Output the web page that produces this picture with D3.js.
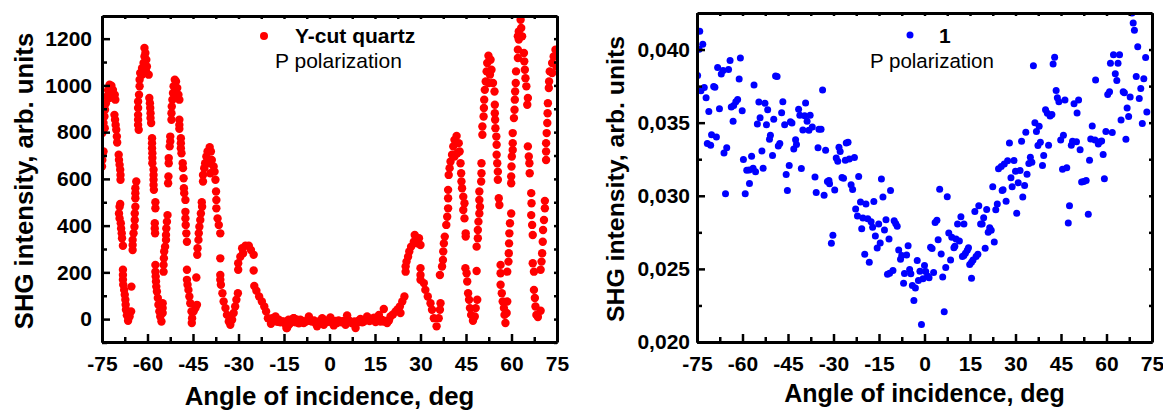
<!DOCTYPE html>
<html lang="en">
<head>
<meta charset="utf-8">
<title>SHG intensity vs angle of incidence</title>
<script src="https://d3js.org/d3.v7.min.js"></script>
<style>
    html, body { margin: 0; padding: 0; background: #fff; }
    svg { display: block; font-family: "Liberation Sans", Arial, sans-serif; }
</style>
</head>
<body>
<div id="chart"></div>
<script>
    ////////////////////////////////////////////////// DATA
    // [angle in deg, intensity]
    var quartzLeft = [
        [-75,653],[-74.9,681],[-74.8,710],[-74.5,717],[-74.9,796],[-74.7,817],[-74.5,839],[-74.9,867],[-74.2,867],[-74,896],
        [-74.1,817],[-73.7,924],[-73.4,953],[-73,979],[-72.5,1003],[-71.9,999],[-71.4,981],[-70.8,960],[-70.6,939],[-71.7,960],[-72.5,946],
        [-70.9,874],[-70.7,853],[-70.5,831],[-70.3,810],[-70.1,781],[-70,756],[-69.5,703],[-69.4,681],[-69.2,660],[-69,639],[-68.9,617],[-68.9,596],
        [-69,493],[-69.2,481],[-69.4,452],[-69.2,431],[-68.8,410],[-68.7,388],[-68.5,367],[-68.4,346],[-68.1,314],
        [-68.1,211],[-68.1,189],[-68.1,168],[-68,147],[-67.7,125],[-67.5,104],[-67.3,83],[-67.2,61],[-67.1,40],[-66.8,16],[-66.4,-7],
        [-65.9,11],[-65.4,33],[-65.3,139],[-64.9,296],[-64.9,317],[-64.9,339],[-64.6,367],[-64.3,395],[-64.2,424],[-64.2,452],[-64,481],[-64,517],[-64,539],[-64,560],[-63.7,589],
        [-62.9,810],[-63.1,831],[-63.1,853],[-63.1,874],[-63.1,903],[-63.1,931],[-62.8,960],[-62.6,996],[-62.6,1024],[-62.4,1053],[-61.8,1074],[-61.3,1096],[-61,1124],[-61,1160],
        [-60.7,1139],[-60.4,1110],[-60.2,1081],[-59.6,1046],[-61,1067],[-61.8,1046],[-60.5,1060],
        [-59.4,946],[-59.2,924],[-59.1,903],[-59,881],[-59,860],[-58.8,839],[-58.5,774],[-58.5,753],[-58.5,731],[-58.4,710],[-58.4,689],[-58.4,667],
        [-58,639],[-58,617],[-58,596],[-58,574],[-57.9,553],[-57.4,500],[-57.4,474],[-57.6,410],[-57.6,388],[-57.5,367],
        [-57.4,232],[-57.4,203],[-57.3,182],[-57.2,161],[-57.1,139],[-56.9,118],[-56.6,90],[-56.4,61],[-56.1,33],[-55.8,11],[-55.4,-10],
        [-55,68],[-55,47],[-55,26],[-54.7,203],[-54.7,232],[-54.6,260],[-54.5,289],[-54.2,310],[-53.9,339],[-53.9,360],[-53.8,388],[-53.6,417],[-53.4,445],
        [-53.2,581],[-53.1,610],[-53,667],[-53,689],[-52.7,739],[-52.5,760],[-52.5,781],[-52.1,853],[-52.1,881],[-52,910],[-51.8,939],[-51.6,967],[-51.4,996],[-51,1024],
        [-50.6,1017],[-50.2,989],[-49.8,960],[-49.5,939],[-50.8,953],
        [-49.5,853],[-49.5,831],[-49.5,814],[-49,774],[-49,753],[-49,731],[-48.8,710],[-48.4,667],[-48.3,646],[-48.1,603],[-48,560],[-47.9,539],[-47.5,510],
        [-47.5,459],[-47.5,431],[-47.4,403],[-47.2,367],[-47,331],[-47,211],[-47,168],[-46.8,147],[-46.5,125],[-46.2,97],[-45.9,68],[-45.5,33],[-45.3,4],[-45.4,-17],
        [-43.9,178],[-43.7,61],[-44.8,33],[-44.2,47],[-43.6,275],[-43.5,303],[-43.2,339],[-43.1,367],[-42.9,395],[-42.6,424],[-42.4,452],[-42,481],[-42.1,500],
        [-41.7,589],[-41.7,617],[-41.3,646],[-41,667],[-40.6,696],[-40.2,717],[-39.5,736],[-39.1,717],[-38.8,681],[-38.2,653],[-37.9,631],[-39.8,667],[-39.3,624],[-37.6,596],[-37.4,546],[-37.3,510],
        [-37.3,474],[-36.9,431],[-36.5,403],[-36,367],[-36,260],[-36,189],[-36,168],[-35.8,147],[-35.3,111],[-34.9,75],[-34.3,47],[-33.8,18],[-33.2,-10],[-32.7,-24],
        [-32.1,-3],[-31.6,26],[-31.1,54],[-30.7,83],[-30.2,111],
        [-30.1,211],[-30.1,239],[-29.4,267],[-28.8,303],[-28.5,282],[-27.7,314],[-26.6,314],[-25.9,296],[-25,275],[-25,208],
        [-24.8,142],[-24.1,121],[-23.2,97],[-22.3,75],[-21.5,54],[-20.9,33],[-20.3,4],[-19.3,-20],[-18.9,4],[-17.8,11],[-16.7,-3],[-15.7,-10],[-14.2,-38],[-13.5,-3],[-11.8,4],[-10.7,-10],[-9.6,-3]
    ];
    var quartzFlat = [
        [-18.4,-8],[-17.2,-12],[-16.2,-14],[-15.1,-10],[-14.6,-20],[-14,-10],[-14,-38],[-13.4,-24],[-12.9,-17],[-12.3,-8],[-11.8,4],[-11.2,-14],[-10.7,-3],[-10.1,-18],[-9.6,-10],[-9,-8],[-8.5,-17],[-7.9,-12],[-7.4,-6],[-6.8,11],[-6.3,-8],[-5.7,-10],[-5.1,-6],[-4.6,-17],[-4.1,-31],[-3.5,-12],[-3,-6],[-2.4,4],[-1.9,-24],[-1.3,-8],[-0.8,-13],[-0.3,-4],[0.3,7],
        [0.8,-14],[1.4,-27],[2,-8],[2.5,-17],[3,-6],[3.4,-10],[4,-14],[4.6,-8],[5.3,-24],[5.8,16],[6.3,-4],[6.9,-13],[7.5,-18],[8.2,-10],[8.6,-38],[9.2,-14],[9.7,-6],[10.2,1],[10.8,-14],[11.3,-10],[11.9,-4],[12.4,11],[13.2,-8],[13.7,2],[14.1,-3],[14.7,6],[15.2,-13],[15.8,2],[16.3,18],[16.8,-10],[17.4,-4],[17.9,43],[17.9,-10],
        [18.5,-8],[19,-17],[19.6,-6],[20.1,11],[20.9,20],[21.8,33],[22.5,42],[23.2,54],[23.4,26],[24,75],[24.7,97]
    ];
    var quartzRight = [
        [25.1,203],[25.1,225],[25.4,246],[25.9,267],[26.3,289],[26.9,310],[27.8,331],[28.1,360],[29.5,346],[30,317],[28.9,324],
        [30,218],[30,189],[30,168],[31.1,154],[31.6,125],[32.4,97],[33.3,68],[33.8,40],[34.4,4],[35.3,-31],[36,4],[36.6,68],[36.4,40],
        [36.4,189],[37.1,225],[37.4,253],[37.5,289],[37.7,324],[38,353],[38.5,403],[38.8,438],[39.1,474],[39.1,517],[39.1,553],[39.3,617],[39.6,646],[39.9,674],
        [40.4,703],[40.8,739],[41.2,767],[41.9,784],[42.6,753],[42.9,717],[42.1,710],[41.2,696],[43.2,667],[43.4,624],[43.5,589],[43.7,560],[44.1,524],[44.5,496],
        [44.1,467],[44.5,431],[44.9,367],[44.9,353],[44.8,218],[45.2,196],[45.4,161],[45.7,111],[46,83],[46.3,47],[46.7,18],[47.3,-7],[47.9,11],[48.7,83],[48.2,47],[48.5,206],
        [48.5,310],[48.9,346],[48.9,381],[49.1,417],[49.4,452],[49.6,481],[49.4,510],[49.4,546],[50,589],[50.1,624],[50.1,667],[50.4,789],[50.4,824],[50.8,867],[50.9,903],[51,939],
        [51.2,981],[51.5,1017],[51.8,1060],[52,1096],[52.4,1127],[53.1,1110],[53.4,1067],[53.9,1010],[54.4,974],[52.5,1010],[52.9,1046],
        [54.5,917],[54.5,881],[54.6,853],[54.7,817],[55,781],[55.1,746],[55.1,703],[55.3,667],[55.5,631],[55.5,596],[55.8,517],[56,488],
        [56.4,232],[56.4,196],[56.4,147],[56.8,111],[57.1,75],[57.5,47],[57.7,18],[58,-17],[58.6,75],[58.4,26],
        [58.6,203],[59,246],[59.1,282],[59.2,324],[59.3,367],[59.5,410],[59.9,452],[59.9,581],[59.9,610],[60,653],[60.1,696],[60.4,724],[60.4,753],[60.4,796],
        [60.8,860],[61,896],[61.1,939],[61.2,974],[61.4,1010],[61.5,1060],[62.1,1117],[62.1,1153],[62.4,1196],[62.4,1231],[63,1281],[63.2,1246],[63.5,1210],[62.1,1210],
        [64.1,1139],[64.2,1103],[64.4,1067],[64.6,1031],[64.9,996],[65.4,946],[65.2,917],
        [65.4,739],[65.7,696],[65.9,667],[66,624],[66.5,539],[66.6,496],[66.5,445],[66.8,403],[67,360],[67,239],[67.4,203],[67.4,125],[67.7,90],[67.9,54],[68.2,18],[68.7,9],[69.6,36],
        [69.6,211],[69.9,246],[70.1,282],[70.3,331],[70.4,381],[70.7,424],[71,474],[71,506],[71.4,681],[71.4,717],[71.4,753],[71.6,796],[71.8,839],[71.9,881],[72,924],
        [72.3,989],[72.4,1017],[72.6,1060],[73.4,1096],[73.9,1124],[74.5,1153],[73.4,1053],[74.8,1081]
    ];

    var sampleLeft = [
        [-74.1,.04125],[-73.1,.04036],[-74.3,.04002],[-74.8,.03822],[-72.6,.03741],[-73.7,.03718],[-72,.0367],[-71.1,.03577],[-69.5,.03748],[-69.1,.03743],[-68.2,.03877],[-67,.03832],[-66.4,.03857],[-64.6,.03864],[-64.1,.03925],
        [-60.7,.03943],[-61.1,.03798],[-56.2,.03757],[-67.6,.03595],[-63.7,.03607],[-62.9,.03618],[-62.2,.03643],[-61.6,.03659],[-60.1,.03582],[-63.1,.03509],[-54.6,.03641],[-52.6,.03632],[-51.7,.03589],[-54.2,.03534],[-55.1,.03491],
        [-52.1,.03486],[-49.7,.03523],[-49.1,.0382],[-48.6,.03816],[-46.7,.03643],[-47.1,.03568],[-46.1,.03486],[-44.2,.03507],[-43.7,.03498],[-41.5,.03591],[-39.2,.03634],[-41.1,.0355],[-39.5,.03548],[-37.7,.0355],[-38.7,.03509],
        [-33.6,.03723],[-40.1,.0345],[-38.1,.03448],[-37,.0347],[-34.8,.03455],[-34.1,.03455],[-70.2,.03418],[-68.6,.03402],[-71.6,.03357],[-70.5,.03345],[-65.2,.03329],[-66.1,.03293],[-59.7,.03248],[-57,.0327],[-53.6,.03307],
        [-50.8,.03414],[-51.1,.03386],[-47.7,.03357],[-48.2,.03341],[-42.5,.03384],[-42.2,.0335],[-43.1,.0332],[-35.1,.03329],[-32.6,.03311],[-28.2,.03332],[-27.8,.03302],[-25.2,.03366],[-25.8,.03361],[-29.1,.03259],[-28.6,.03236],
        [-26.1,.03243],[-24.8,.03252],[-23.1,.03261],[-50.1,.03275],[-58.6,.03175],[-57.8,.03177],[-56.5,.03189],[-55.7,.03164],[-53.2,.03189],[-44.6,.03207],[-40.6,.03186],[-45.6,.03145],[-57.7,.03084],[-65.6,.03014],[-59.1,.03014],
        [-45.2,.03036],[-36.1,.03129],[-32,.03098],[-31.5,.03104],[-31.3,.03082],[-27.2,.03125],[-26.7,.0312],[-21.7,.03132],[-24.2,.03075],[-23.7,.03043],[-29.6,.03039],[-35.7,.03023],[-33.1,.03004],[-21.1,.02957],[-19.3,.02943],[-16.7,.02961]
    ];
    var sampleCentre = [
        [-14.2,.03114],[-13.7,.02991],[-11.2,.03036],[-22.7,.02909],[-22.1,.02861],[-20.3,.02848],[-18.7,.02843],[-17.6,.02823],[-17.1,.02784],[-15.1,.02807],[-12.7,.02836],[-20.7,.02775],[-13.2,.02766],[-16.2,.02725],[-11.7,.02705],
        [-14.6,.02677],[-15.6,.02643],[-19.7,.026],[-18.2,.02545],[-12.2,.02464],[-11.5,.0247],[-30.2,.0273],[-30.7,.02675],[-10,.0283],[-9.5,.02811],[-9,.02791],[-8.5,.0263],[-5.4,.02659],[-5.9,.02595],[-7.5,.02591],[-7.9,.02566],
        [-2.4,.02557],[0,.02523],[-4.9,.02495],[-10.4,.02489],[-6.6,.02468],[-4.5,.02466],[-1.5,.02484],[0.4,.02482],[3,.02475],[1,.02452],[1.5,.02439],[-0.5,.02432],[-2,.0242],[-6.9,.02402],[-4,.02386],[-3,.0237],[-3.5,.02284],[-1,.0212],
        [6.5,.02207],[6,.02445],[7,.02509],[8.6,.02561],[5.5,.02602],[2,.02648],[2.5,.02639],[4.5,.027],[8,.02745],[9,.02716],[10.4,.02705],[11.5,.02691],[9.7,.02645],[10,.02655],[13,.02591],[12.5,.02584],[13.5,.02607],[14.1,.02627],[14.5,.02645]
    ];
    var sampleRight = [
        [5,.03045],[7.5,.02993],[14.9,.0253],[15.5,.02545],[16,.02561],[17,.02584],[17.6,.026],[15.5,.02436],[20,.02641],[23,.02684],[21,.0275],[21.5,.02782],[22,.02764],[18.5,.02807],[19,.02807],[19.5,.0285],[10.9,.02807],[13,.02807],[12,.02857],
        [3.5,.02818],[4.1,.02832],[16.6,.02893],[17.9,.02932],[20.5,.02907],[23.5,.02905],[24,.02943],[30.4,.0288],[47.4,.02814],[47.8,.02932],[54,.02873],[22.5,.03061],[25.6,.03036],[25.9,.03041],[26.9,.02963],[32.4,.02991],[28.9,.03061],
        [30.9,.03089],[33,.0307],[28.5,.03123],[33.8,.03148],[30,.03168],[31.5,.03173],[24.4,.03184],[25.3,.032],[26.3,.03218],[27.4,.03239],[29.5,.03241],[34.4,.0322],[35.4,.03229],[34.9,.03264],[38.9,.03207],[39.3,.03275],[28,.03361],[32,.03373],
        [33.4,.03434],[36.9,.03439],[37.8,.03475],[36.4,.035],[37.4,.03343],[38.2,.03366],[40.9,.03345],[39.9,.03589],[40.5,.03564],[41.4,.03545],[42,.03555],[43.4,.0372],[43.8,.0367],[44.3,.03643],[46.3,.03655],[42.4,.03902],[42.9,.03948],[35.9,.03889],
        [49.3,.0363],[50.8,.03655],[50.3,.03566],[44.9,.03382],[45.8,.03414],[48.4,.03345],[48.8,.03373],[50.1,.0337],[51.3,.03314],[45.5,.03182],[46.9,.03191],[54.4,.03243],[58.9,.03282],[55.3,.03477],[54.8,.03389],[56.2,.03382],[57.3,.03354],[57.8,.0337],
        [58.4,.03375],[59.8,.03439],[61.9,.03432],[66.4,.03386],[51.8,.03095],[52.5,.03098],[53.3,.03104],[59.3,.03116],[56.4,.03791],[60.4,.03693],[61,.03711],[65.5,.03711],[65.9,.03705],[67.8,.03675],[70.8,.03666],[71.3,.03734],[66.8,.036],[64.8,.03518],
        [67.3,.03543],[71.8,.03495],[73.3,.03573],[61.3,.03907],[63.8,.03907],[62.3,.03964],[64.3,.03964],[62.9,.03834],[63.4,.03789],[69.8,.03816],[72.3,.038],[72.9,.03945],[70.3,.0402],[69.2,.04132],[68.8,.04182],[68.4,.0425]
    ];

    var angleTicks = d3.range(-75, 76, 15);
    var angleMinorTicks = d3.range(-67.5, 75, 15);
    var quartzTicks = [0, 200, 400, 600, 800, 1000, 1200];
    var quartzMinorTicks = [-100, 100, 300, 500, 700, 900, 1100];
    var sampleTicks = [0.020, 0.025, 0.030, 0.035, 0.040];
    var sampleMinorTicks = [0.0225, 0.0275, 0.0325, 0.0375];

    ////////////////////////////////////////////////// SETUP
    var svg = d3.select("#chart").append("svg")
        .attr("width", 1163)
        .attr("height", 410);

    drawPanel({
        id: "quartz",
        left: 102, right: 557, top: 16, bottom: 342,
        yDomain: [-98, 1297],
        yTicks: quartzTicks,
        yMinor: quartzMinorTicks,
        yFormat: d3.format("d"),
        data: quartzLeft.concat(quartzFlat, quartzRight),
        color: "#ff0000",
        radius: 4.2,
        yPad: 10,
        titleX: 33, titleY: 181, titleSize: 25.7,
        xTitleY: 405, xTitleSize: 25.8
    });
    drawPanel({
        id: "sample",
        left: 697, right: 1152, top: 13, bottom: 342,
        yDomain: [0.020, 0.0425],
        yTicks: sampleTicks,
        yMinor: sampleMinorTicks,
        yFormat: function(d) { return d3.format(".3f")(d).replace(".", ","); },
        data: sampleLeft.concat(sampleCentre, sampleRight),
        color: "#0000ff",
        radius: 3.5,
        yPad: 7,
        titleX: 624, titleY: 179, titleSize: 24.8,
        xTitleY: 402, xTitleSize: 25
    });

    // legends
    svg.append("circle").attr("cx", 264).attr("cy", 36).attr("r", 4).attr("fill", "#ff0000");
    addText(295, 43, "Y-cut quartz", 21, "bold", "start");
    addText(275, 68, "P polarization", 21, "normal", "start");
    svg.append("circle").attr("cx", 910).attr("cy", 35).attr("r", 3.5).attr("fill", "#0000ff");
    addText(939, 43, "1", 21, "bold", "start");
    addText(870, 68, "P polarization", 20.5, "normal", "start");

    ////////////////////////////////////////////////// FUNCTIONS
    function addText(x, y, label, size, weight, anchor) {
        return svg.append("text")
            .attr("x", x)
            .attr("y", y)
            .attr("font-size", size)
            .attr("font-weight", weight)
            .attr("text-anchor", anchor)
            .attr("fill", "#000")
            .text(label);
    }

    function styleAxis(g) {
        g.selectAll("path.domain").attr("stroke", "#000").attr("stroke-width", 3);
        g.selectAll("line").attr("stroke", "#000").attr("stroke-width", 2.5);
        g.selectAll("text")
            .attr("font-family", "Liberation Sans")
            .attr("font-size", 21)
            .attr("font-weight", "bold")
            .attr("fill", "#000");
    }

    function drawPanel(p) {
        var x = d3.scaleLinear().domain([-75, 75]).range([p.left, p.right]);
        var y = d3.scaleLinear().domain(p.yDomain).range([p.bottom, p.top]);
        var g = svg.append("g").attr("id", p.id);

        g.append("clipPath").attr("id", "clip-" + p.id)
            .append("rect")
            .attr("x", p.left).attr("y", p.top)
            .attr("width", p.right - p.left).attr("height", p.bottom - p.top);

        g.append("g").attr("clip-path", "url(#clip-" + p.id + ")")
            .selectAll("circle")
            .data(p.data)
            .join("circle")
            .attr("cx", function(d) { return x(d[0]); })
            .attr("cy", function(d) { return y(d[1]); })
            .attr("r", p.radius)
            .attr("fill", p.color);

        // frame: labelled bottom and left, unlabelled top and right, ticks pointing in
        var bottom = d3.axisBottom(x).tickValues(angleTicks).tickSizeInner(-8).tickSizeOuter(0).tickPadding(14)
            .tickFormat(function(d) { return String(d); });
        var bottomMinor = d3.axisBottom(x).tickValues(angleMinorTicks).tickSizeInner(-5).tickSizeOuter(0).tickFormat("");
        var left = d3.axisLeft(y).tickValues(p.yTicks).tickSizeInner(-8).tickSizeOuter(0).tickPadding(p.yPad)
            .tickFormat(p.yFormat);
        var leftMinor = d3.axisLeft(y).tickValues(p.yMinor).tickSizeInner(-5).tickSizeOuter(0).tickFormat("");
        var top = d3.axisTop(x).tickValues(angleTicks.concat(angleMinorTicks)).tickSizeInner(-3).tickSizeOuter(0).tickFormat("");
        var right = d3.axisRight(y).tickValues(p.yTicks.concat(p.yMinor)).tickSizeInner(-3).tickSizeOuter(0).tickFormat("");

        g.append("g").attr("transform", "translate(0," + p.bottom + ")").call(bottom).call(styleAxis);
        g.append("g").attr("transform", "translate(0," + p.bottom + ")").call(bottomMinor).call(styleAxis);
        g.append("g").attr("transform", "translate(" + p.left + ",0)").call(left).call(styleAxis);
        g.append("g").attr("transform", "translate(" + p.left + ",0)").call(leftMinor).call(styleAxis);
        g.append("g").attr("transform", "translate(0," + p.top + ")").call(top).call(styleAxis);
        g.append("g").attr("transform", "translate(" + p.right + ",0)").call(right).call(styleAxis);

        addText((p.left + p.right) / 2, p.xTitleY, "Angle of incidence, deg", p.xTitleSize, "bold", "middle");
        addText(0, 0, "SHG intensity, arb. units", p.titleSize, "bold", "middle")
            .attr("transform", "translate(" + p.titleX + "," + p.titleY + ") rotate(-90)");
    }
</script>
</body>
</html>
